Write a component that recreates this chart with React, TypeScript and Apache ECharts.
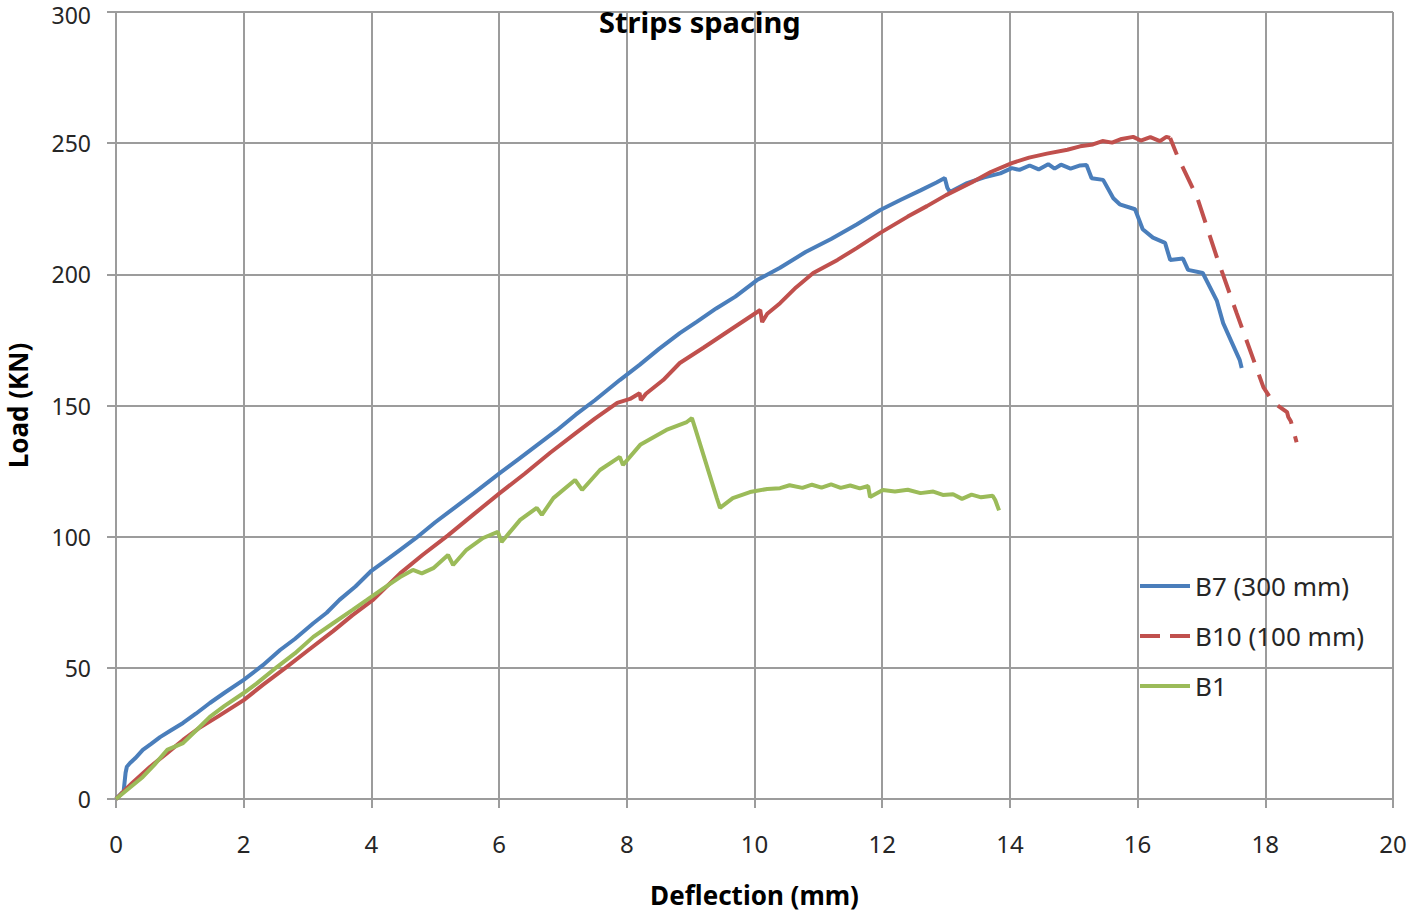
import React, { useEffect, useRef } from "react";
import * as echarts from "echarts";

const titleText = "Strips spacing";
const xName = "Deflection (mm)";
const yName = "Load (KN)";

const b7Deflection = [0, 0.12, 0.15, 0.17, 0.22, 0.3, 0.42, 0.55, 0.69, 0.85, 1.05, 1.25, 1.47, 1.7, 2.0, 2.3, 2.57, 2.8, 3.09, 3.3, 3.5, 3.75, 4.0, 4.2, 4.45, 4.7, 5.0, 5.3, 5.6, 6.0, 6.3, 6.6, 6.9, 7.2, 7.5, 7.89, 8.2, 8.5, 8.83, 9.1, 9.4, 9.7, 10.04, 10.4, 10.8, 11.2, 11.6, 11.97, 12.3, 12.6, 12.85, 12.98, 13.02, 13.06, 13.33, 13.6, 13.85, 14.03, 14.15, 14.31, 14.45, 14.6, 14.7, 14.8, 14.95, 15.1, 15.2, 15.28, 15.46, 15.62, 15.72, 15.96, 16.08, 16.24, 16.43, 16.51, 16.71, 16.79, 17.02, 17.24, 17.34, 17.48, 17.6, 17.63];
const b7Load = [0, 3, 10, 12.3, 13.7, 15.5, 18.7, 21, 23.6, 26, 29, 32.5, 36.6, 40.5, 45.4, 51, 56.8, 61, 67, 71, 75.9, 81, 87, 90.5, 95, 99.5, 105.5, 111, 116.5, 124, 129.5, 135, 140.5, 146.5, 152, 159.7, 165.5, 171.5, 177.6, 182, 187, 191.5, 197.8, 202.5, 208.5, 213.5, 219, 224.5, 228.5, 232, 235, 236.7, 233, 231.4, 234.8, 237, 238.5, 240.5, 239.8, 241.5, 240, 242, 240.3, 241.8, 240.3, 241.5, 241.7, 236.6, 236, 229, 226.7, 224.8, 217.2, 214, 212, 205.5, 206, 201.7, 200.5, 190, 181.4, 173.8, 167.3, 164.3];

const b10Deflection = [0, 0.25, 0.53, 0.8, 1.05, 1.3, 1.6, 2.0, 2.3, 2.67, 3.0, 3.4, 3.7, 4.03, 4.45, 4.8, 5.2, 5.6, 6.01, 6.4, 6.8, 7.2, 7.5, 7.85, 8.05, 8.2, 8.22, 8.3, 8.57, 8.83, 9.2, 9.6, 10.09, 10.12, 10.2, 10.4, 10.65, 10.92, 11.3, 11.6, 11.97, 12.4, 12.7, 13.0, 13.4, 13.7, 14.03, 14.3, 14.58, 14.9, 15.1, 15.3, 15.45, 15.6, 15.75, 15.93, 16.05, 16.2, 16.35, 16.45, 16.51];
const b10Load = [0, 6, 12.2, 17.5, 22.5, 27, 31.5, 37.7, 43.5, 50.3, 56.5, 64, 70, 76, 86, 93, 100.5, 108.5, 116.6, 124, 132, 139.5, 145, 151, 152.5, 154.7, 152, 154.5, 159.7, 166.2, 172, 178.5, 186.4, 181.8, 185, 189, 195, 200.5, 205.5, 210, 215.8, 222, 226, 230.2, 235, 239, 242.4, 244.5, 246, 247.5, 248.8, 249.5, 250.8, 250.2, 251.6, 252.4, 251, 252.3, 250.8, 252.4, 252];
const b10TailDeflection = [16.51, 16.63, 16.93, 17.24, 17.55, 17.89, 17.97, 18.12, 18.34, 18.36, 18.4, 18.49];
const b10TailLoad = [252, 244.7, 229.5, 206.6, 185.3, 162.4, 157, 151.3, 147.5, 145.6, 144, 136];

const b1Deflection = [0, 0.2, 0.42, 0.6, 0.8, 1.05, 1.25, 1.47, 1.7, 2.0, 2.2, 2.52, 2.8, 3.09, 3.4, 3.7, 3.93, 4.2, 4.45, 4.65, 4.79, 4.97, 5.2, 5.28, 5.49, 5.75, 5.98, 6.04, 6.33, 6.59, 6.67, 6.85, 7.19, 7.3, 7.58, 7.89, 7.94, 8.21, 8.62, 8.94, 9.02, 9.07, 9.41, 9.46, 9.66, 9.93, 10.2, 10.4, 10.55, 10.75, 10.9, 11.05, 11.2, 11.35, 11.5, 11.65, 11.78, 11.81, 12.01, 12.2, 12.4, 12.6, 12.8, 12.95, 13.11, 13.25, 13.4, 13.55, 13.73, 13.77, 13.83];
const b1Load = [0, 4, 8.4, 13, 18.7, 21.3, 26, 31.3, 35.5, 40.4, 44, 50.3, 55.5, 61.8, 67, 72, 75.9, 80.5, 84.6, 87.3, 86, 88, 93, 89.2, 95, 99.5, 101.8, 98, 106.4, 111, 108.3, 114.7, 121.6, 117.8, 125.4, 130.4, 127.3, 135, 140.7, 143.7, 145.2, 141.4, 114.7, 111, 114.7, 117, 118.2, 118.5, 119.6, 118.6, 119.8, 118.7, 119.9, 118.6, 119.5, 118.4, 119.3, 115.1, 117.8, 117.2, 117.9, 116.6, 117.2, 115.9, 116.2, 114.4, 116, 115, 115.6, 114, 110];

const xTicks = { min: 0, max: 20, interval: 2 };
const yTicks = { min: 0, max: 300, interval: 50 };

const zip = (xs: number[], ys: number[]) => xs.map((x, i) => [x, ys[i]]);

const FONT = "'Noto Sans', sans-serif";
const GRID_COLOR = "#9c9c9c";
const TEXT_COLOR = "#262626";
const SOLID_ICON = "path://M0,0H50V4H0Z";
const DASH_ICON = "path://M0,0H20V4H0Z M30,0H50V4H30Z";

export default function App() {
  const ref = useRef<HTMLDivElement>(null);
  useEffect(() => {
    if (!ref.current) return;
    const chart = echarts.init(ref.current, undefined, { renderer: "svg" });
    const axisCommon = {
      axisLine: { show: true, lineStyle: { color: GRID_COLOR, width: 2 } },
      axisTick: { show: true, inside: false, length: 9, lineStyle: { color: GRID_COLOR, width: 2 } },
      splitLine: { show: true, lineStyle: { color: GRID_COLOR, width: 2 } },
      nameTextStyle: { fontFamily: FONT, fontSize: 26, fontWeight: "bold", color: "#000" },
    };
    chart.setOption({
      animation: false,
      backgroundColor: "#ffffff",
      title: {
        text: titleText,
        left: 594,
        top: 2,
        textStyle: { fontFamily: FONT, fontSize: 29, fontWeight: "bold", color: "#000" },
      },
      grid: { left: 116, right: 23, top: 12, bottom: 115, containLabel: false, outerBoundsMode: "none" },
      legend: {
        orient: "vertical",
        left: 1135,
        top: 565,
        itemWidth: 50,
        itemHeight: 4,
        itemGap: 18,
        textStyle: { fontFamily: FONT, fontSize: 26, color: TEXT_COLOR, lineHeight: 32 },
        data: [
          { name: "B7 (300 mm)", icon: SOLID_ICON },
          { name: "B10 (100 mm)", icon: DASH_ICON },
          { name: "B1", icon: SOLID_ICON },
        ],
      },
      xAxis: {
        type: "value",
        ...xTicks,
        ...axisCommon,
        name: xName,
        nameLocation: "middle",
        nameGap: 83,
        axisLabel: { fontFamily: FONT, fontSize: 24, color: TEXT_COLOR, margin: 32 },
      },
      yAxis: {
        type: "value",
        ...yTicks,
        ...axisCommon,
        name: yName,
        nameLocation: "middle",
        nameGap: 85,
        axisLabel: {
          fontFamily: FONT,
          fontSize: 23,
          color: TEXT_COLOR,
          margin: 25,
          formatter: (v: number) => (v === yTicks.max ? "{top|" + v + "}" : String(v)),
          rich: {
            top: { fontFamily: FONT, fontSize: 23, color: TEXT_COLOR, padding: [6, 0, 0, 0] },
          },
        },
      },
      series: [
        {
          name: "B7 (300 mm)",
          type: "line",
          data: zip(b7Deflection, b7Load),
          symbol: "none",
          color: "#4A7EBB",
          lineStyle: { width: 4, color: "#4A7EBB" },
        },
        {
          name: "B10 (100 mm)",
          type: "line",
          data: zip(b10Deflection, b10Load),
          symbol: "none",
          color: "#C0504D",
          lineStyle: { width: 4, color: "#C0504D" },
        },
        {
          name: "B10 tail",
          type: "line",
          data: zip(b10TailDeflection, b10TailLoad),
          symbol: "none",
          color: "#C0504D",
          lineStyle: { width: 4, color: "#C0504D", type: [24, 13], dashOffset: 6 },
        },
        {
          name: "B1",
          type: "line",
          data: zip(b1Deflection, b1Load),
          symbol: "none",
          color: "#9BBB59",
          lineStyle: { width: 4, color: "#9BBB59" },
        },
      ],
    });
    return () => chart.dispose();
  }, []);
  return (
    <div
      ref={ref}
      style={{ position: "fixed", left: 0, top: 0, width: "1416px", height: "914px" }}
    />
  );
}
